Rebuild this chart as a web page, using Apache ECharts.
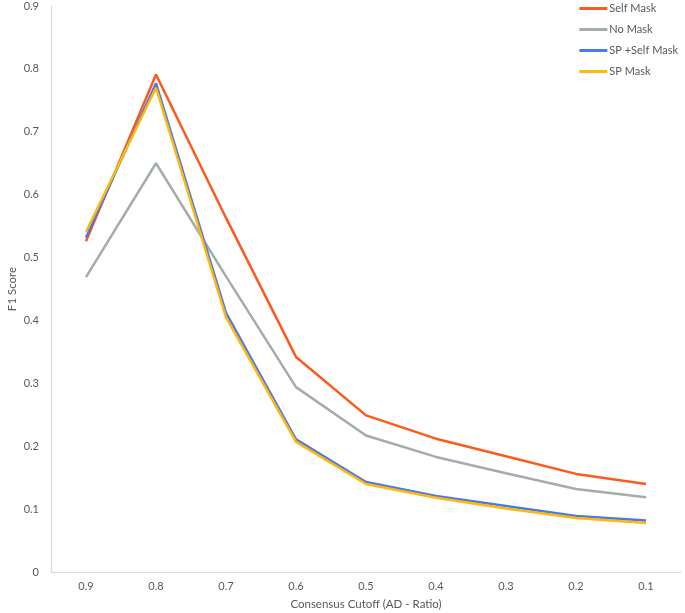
<!DOCTYPE html>
<html>
<head>
<meta charset="utf-8">
<script src="https://cdn.jsdelivr.net/npm/echarts@6/dist/echarts.min.js"></script>
<style>html,body{margin:0;padding:0;background:#fff}#c{width:685px;height:613px}</style>
</head>
<body>
<div id="c"></div>
<script>
const categories = ['0.9','0.8','0.7','0.6','0.5','0.4','0.3','0.2','0.1'];
const selfMask   = [0.526, 0.791, 0.563, 0.342, 0.249, 0.212, 0.184, 0.156, 0.140];
const noMask     = [0.469, 0.650, 0.470, 0.294, 0.217, 0.183, 0.157, 0.132, 0.119];
const spSelfMask = [0.532, 0.777, 0.412, 0.211, 0.143, 0.121, 0.105, 0.089, 0.082];
const spMask     = [0.541, 0.770, 0.405, 0.207, 0.140, 0.118, 0.101, 0.086, 0.078];
const seriesNames = ['Self Mask','No Mask','SP +Self Mask','SP Mask'];
const colors = ['#FC5A1E','#A3ADA9','#4A78F0','#FFBA08'];

const font = 'Lato, "Open Sans", sans-serif';
const chart = echarts.init(document.getElementById('c'), null, {renderer:'canvas'});
const data = [selfMask, noMask, spSelfMask, spMask];
chart.setOption({
  animation: false,
  textStyle: {fontFamily: font},
  grid: {left: 51, right: 4, top: 6, bottom: 41, containLabel: false, outerBoundsMode: 'none'},
  legend: {
    orient: 'vertical', right: 2, top: -2,
    itemWidth: 28, itemHeight: 3, itemGap: 10,
    icon: 'rect',
    textStyle: {fontSize: 11, color: '#595959', fontFamily: font, padding: [0,0,0,-3]},
    data: seriesNames
  },
  xAxis: {
    type: 'category', data: categories, boundaryGap: true,
    name: 'Consensus Cutoff (AD - Ratio)', nameLocation: 'middle', nameGap: 26,
    nameMoveOverlap: false,
    nameTextStyle: {fontSize: 11.5, color: '#595959'},
    axisLine: {lineStyle: {color: '#D9D9D9'}},
    axisTick: {show: false},
    axisLabel: {fontSize: 11, color: '#595959', margin: 9}
  },
  yAxis: {
    type: 'value', min: 0, max: 0.9, interval: 0.1,
    name: 'F1 Score', nameLocation: 'middle', nameGap: 33, nameRotate: 90,
    nameMoveOverlap: false,
    nameTextStyle: {fontSize: 11.5, color: '#595959'},
    axisLine: {show: true, lineStyle: {color: '#D9D9D9'}},
    axisTick: {show: false},
    splitLine: {show: false},
    axisLabel: {fontSize: 11, color: '#595959', margin: 12,
      formatter: v => v === 0 ? '0' : v.toFixed(1)}
  },
  series: seriesNames.map((n, i) => ({
    name: n, type: 'line', data: data[i],
    symbol: 'none', color: colors[i],
    lineStyle: {width: 2.5, color: colors[i]}
  }))
});
</script>
</body>
</html>
